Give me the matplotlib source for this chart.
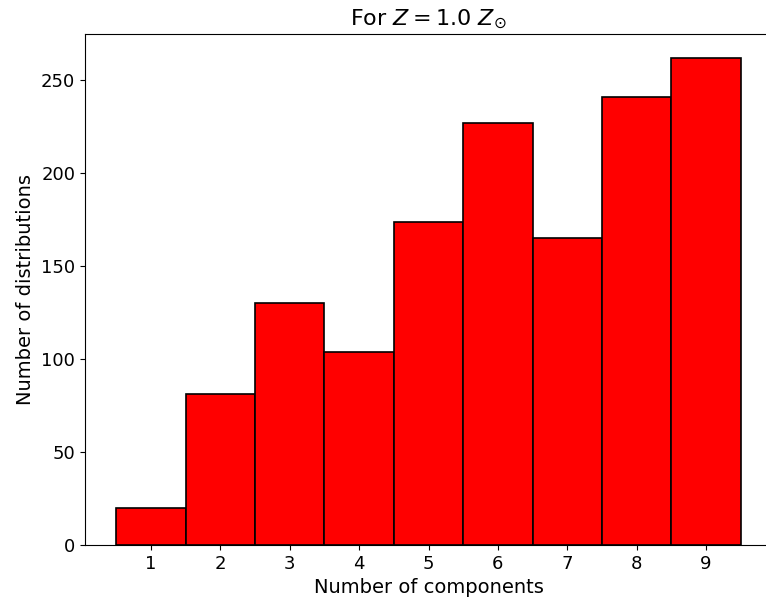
import matplotlib
matplotlib.use("Agg")
import matplotlib.pyplot as plt

components = [1, 2, 3, 4, 5, 6, 7, 8, 9]
counts = [20, 81, 130, 104, 174, 227, 165, 241, 262]

fig = plt.figure(figsize=(7.66, 6.06), dpi=100)
# axes runs slightly past the right edge, as in the cropped original
ax = fig.add_axes([85 / 766, 61 / 606, 687 / 766, 511 / 606])

ax.bar(components, counts, width=1.0, color="red", edgecolor="black",
       linewidth=1.2)
ax.set_xticks(components)
ax.set_xlim(0.05, 9.95)
ax.set_ylim(0, 275)
ax.spines["right"].set_visible(False)

ax.tick_params(labelsize=13)
ax.set_xlabel("Number of components", fontsize=14)
ax.set_ylabel("Number of distributions", fontsize=14)
ax.set_title(r"For $Z = 1.0\ Z_{\odot}$", fontsize=16)

fig.savefig("out.png", dpi=100)
